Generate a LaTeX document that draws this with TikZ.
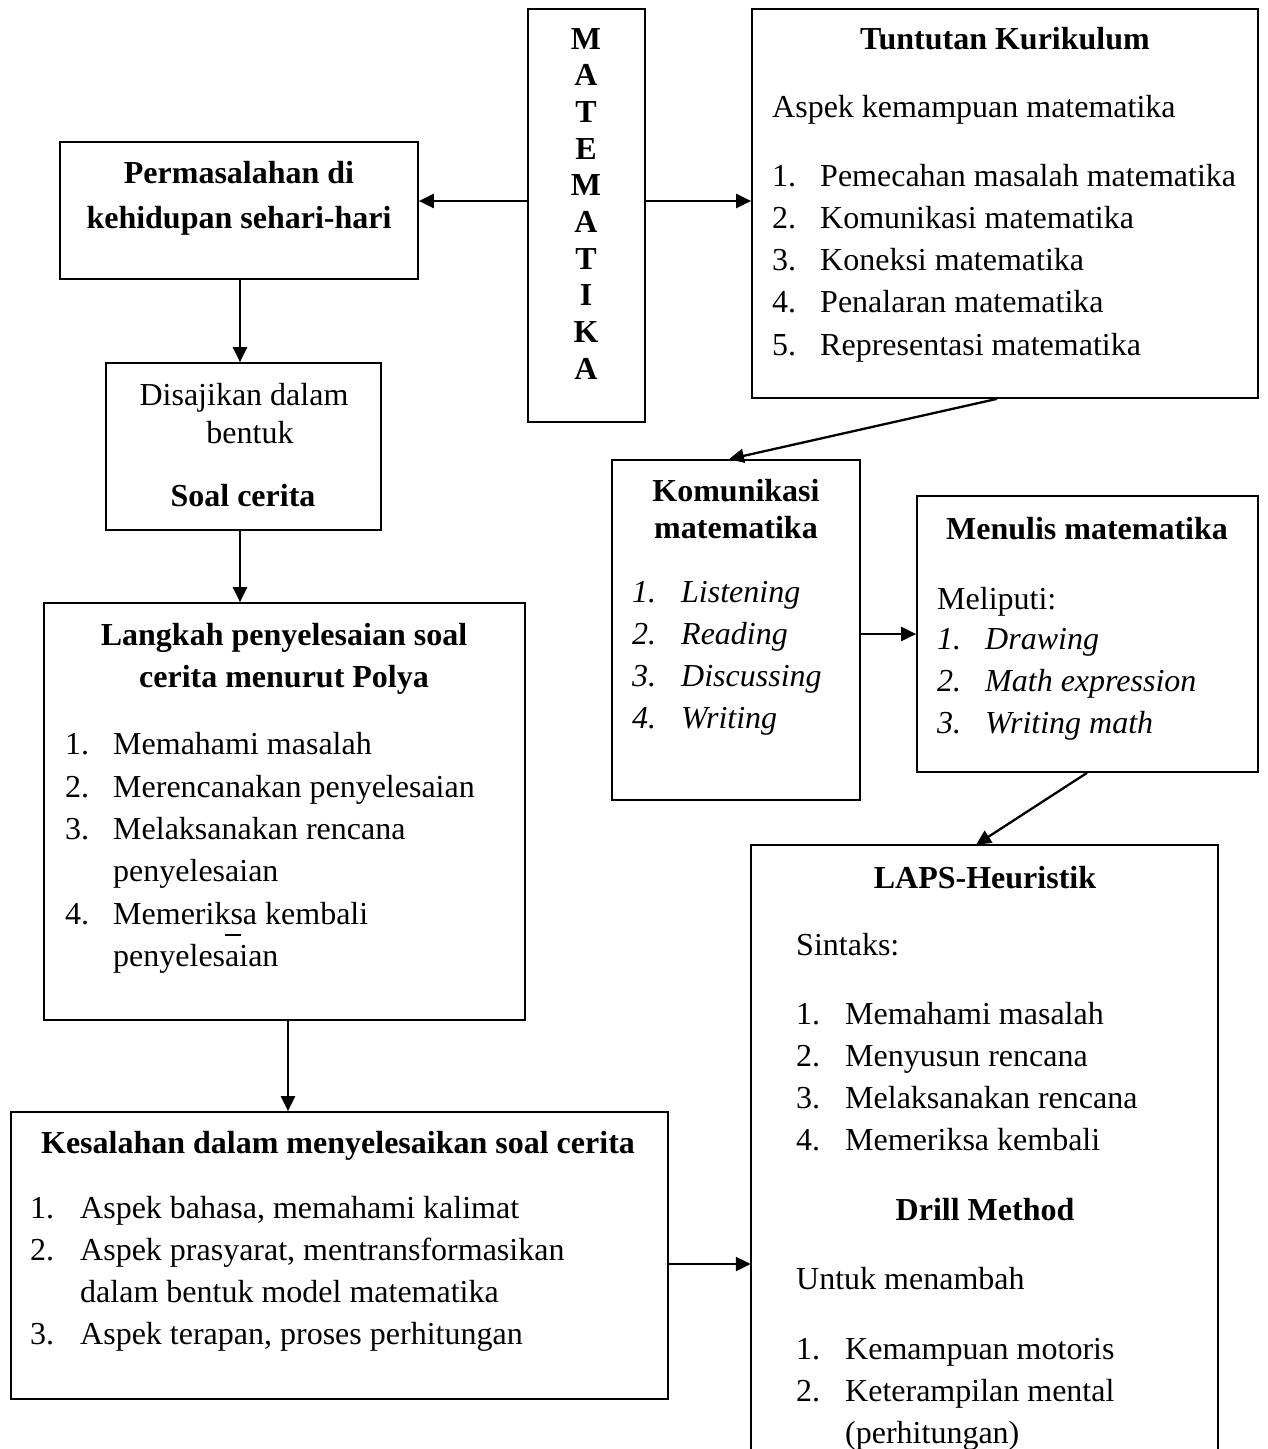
\documentclass[tikz,border=0pt]{standalone}
\usepackage{fontspec}
\setmainfont{Liberation Serif}
\usetikzlibrary{arrows.meta,fit}
\begin{document}
\begin{tikzpicture}[x=1pt,y=-1pt,
  box/.style={draw,line width=1.7pt,inner sep=0pt},
  frame/.style={inner sep=0pt},
  boxline/.style={line width=1.7pt},
  arr/.style={line width=2.3pt,-{Triangle[length=15pt,width=14pt]}},
  tx/.style={inner sep=0pt,anchor=base west,font=\fontsize{32}{37}\selectfont},
  ti/.style={inner sep=0pt,anchor=base west,font=\fontsize{32}{37}\selectfont\itshape},
  tn/.style={inner sep=0pt,anchor=base,font=\fontsize{32}{37}\selectfont},
  tc/.style={inner sep=0pt,anchor=base,font=\fontsize{32}{37}\selectfont\bfseries}]
\useasboundingbox (0,0) rectangle (1267,1449);

% boxes
\node[box,fit={(528,9)(645,422)}] (mat) {};
\node[box,fit={(752,9)(1258,398)}] (tun) {};
\node[box,fit={(60,142)(418,279)}] (per) {};
\node[box,fit={(106,363)(381,530)}] (dis) {};
\node[box,fit={(44,603)(525,1020)}] (lan) {};
\node[box,fit={(11,1112)(668,1399)}] (kes) {};
\node[box,fit={(612,460)(860,800)}] (kom) {};
\node[box,fit={(917,496)(1258,772)}] (men) {};
\node[frame,fit={(751,845)(1218,1480)}] (laps) {};
\draw[boxline] (laps.south west) -- (laps.north west) -- (laps.north east) -- (laps.south east);

% MATEMATIKA
\foreach \c [count=\i] in {M,A,T,E,M,A,T,I,K,A}
  \node[tc] (mat-\i) at (586,{49+36.7*(\i-1)}) {\c};

% Tuntutan Kurikulum
\node[tc] (tun-t) at (1005,49) {Tuntutan Kurikulum};
\node[tx] (tun-a) at (772,117) {Aspek kemampuan matematika};
\foreach \t [count=\i] in {Pemecahan masalah matematika,Komunikasi matematika,Koneksi matematika,Penalaran matematika,Representasi matematika}{
  \node[tx] (tun-n\i) at (772,{186+42.3*(\i-1)}) {\i.};
  \node[tx] (tun-i\i) at (820,{186+42.3*(\i-1)}) {\t};
}

% Permasalahan
\node[tc] (per-1) at (239,183) {Permasalahan di};
\node[tc] (per-2) at (239,228) {kehidupan sehari-hari};

% Disajikan
\node[tn] (dis-1) at (244,405) {Disajikan dalam};
\node[tn] (dis-2) at (250,443) {bentuk};
\node[tc] (dis-3) at (243,506) {Soal cerita};

% Langkah
\node[tc] (lan-1) at (284,645) {Langkah penyelesaian soal};
\node[tc] (lan-2) at (284,687) {cerita menurut Polya};
\node[tx] (lan-n1) at (65,754) {1.};
\node[tx] (lan-i1) at (113,754) {Memahami masalah};
\node[tx] (lan-n2) at (65,797) {2.};
\node[tx] (lan-i2) at (113,797) {Merencanakan penyelesaian};
\node[tx] (lan-n3) at (65,839) {3.};
\node[tx] (lan-i3) at (113,839) {Melaksanakan rencana};
\node[tx] (lan-c3) at (113,881) {penyelesaian};
\node[tx] (lan-n4) at (65,924) {4.};
\node[tx] (lan-i4) at (113,924) {Memeriksa kembali};
\node[tx] (lan-c4) at (113,966) {penyelesaian};
\draw[line width=1.2pt] (225,935) -- (241,935);

% Kesalahan
\node[tc] (kes-t) at (338,1153) {Kesalahan dalam menyelesaikan soal cerita};
\node[tx] (kes-n1) at (30,1218) {1.};
\node[tx] (kes-i1) at (80,1218) {Aspek bahasa, memahami kalimat};
\node[tx] (kes-n2) at (30,1260) {2.};
\node[tx] (kes-i2) at (80,1260) {Aspek prasyarat, mentransformasikan};
\node[tx] (kes-c2) at (80,1302) {dalam bentuk model matematika};
\node[tx] (kes-n3) at (30,1344) {3.};
\node[tx] (kes-i3) at (80,1344) {Aspek terapan, proses perhitungan};

% Komunikasi
\node[tc] (kom-1) at (736,501) {Komunikasi};
\node[tc] (kom-2) at (736,538) {matematika};
\foreach \t [count=\i] in {Listening,Reading,Discussing,Writing}{
  \node[ti] (kom-n\i) at (632,{602+42.3*(\i-1)}) {\i.};
  \node[ti] (kom-i\i) at (681,{602+42.3*(\i-1)}) {\t};
}

% Menulis
\node[tc] (men-t) at (1087,539) {Menulis matematika};
\node[tx] (men-a) at (937,609) {Meliputi:};
\foreach \t [count=\i] in {Drawing,Math expression,Writing math}{
  \node[ti] (men-n\i) at (937,{649+42*(\i-1)}) {\i.};
  \node[ti] (men-i\i) at (985,{649+42*(\i-1)}) {\t};
}

% LAPS
\node[tc] (laps-t) at (985,888) {LAPS-Heuristik};
\node[tx] (laps-s) at (796,955) {Sintaks:};
\foreach \t [count=\i] in {Memahami masalah,Menyusun rencana,Melaksanakan rencana,Memeriksa kembali}{
  \node[tx] (laps-n\i) at (796,{1024+42.3*(\i-1)}) {\i.};
  \node[tx] (laps-i\i) at (845,{1024+42.3*(\i-1)}) {\t};
}
\node[tc] (laps-d) at (985,1220) {Drill Method};
\node[tx] (laps-u) at (796,1289) {Untuk menambah};
\node[tx] (laps-m1) at (796,1359) {1.};
\node[tx] (laps-j1) at (845,1359) {Kemampuan motoris};
\node[tx] (laps-m2) at (796,1401) {2.};
\node[tx] (laps-j2) at (845,1401) {Keterampilan mental};
\node[tx] (laps-k2) at (845,1443) {(perhitungan)};

% connectors
\draw[arr] (mat.west |- 0,201) -- (per.east |- 0,201);
\draw[arr] (mat.east |- 0,201) -- (tun.west |- 0,201);
\draw[arr] (per.south -| 240,0) -- (dis.north -| 240,0);
\draw[arr] (dis.south -| 240,0) -- (lan.north -| 240,0);
\draw[arr] (lan.south -| 288,0) -- (kes.north -| 288,0);
\draw[arr] (tun.south -| 997,0) -- (kom.north -| 729,0);
\draw[arr] (kom.east |- 0,634) -- (men.west |- 0,634);
\draw[arr] (men.south -| 1087,0) -- (laps.north -| 976,0);
\draw[arr] (kes.east |- 0,1264) -- (laps.west |- 0,1264);
\end{tikzpicture}
\end{document}
